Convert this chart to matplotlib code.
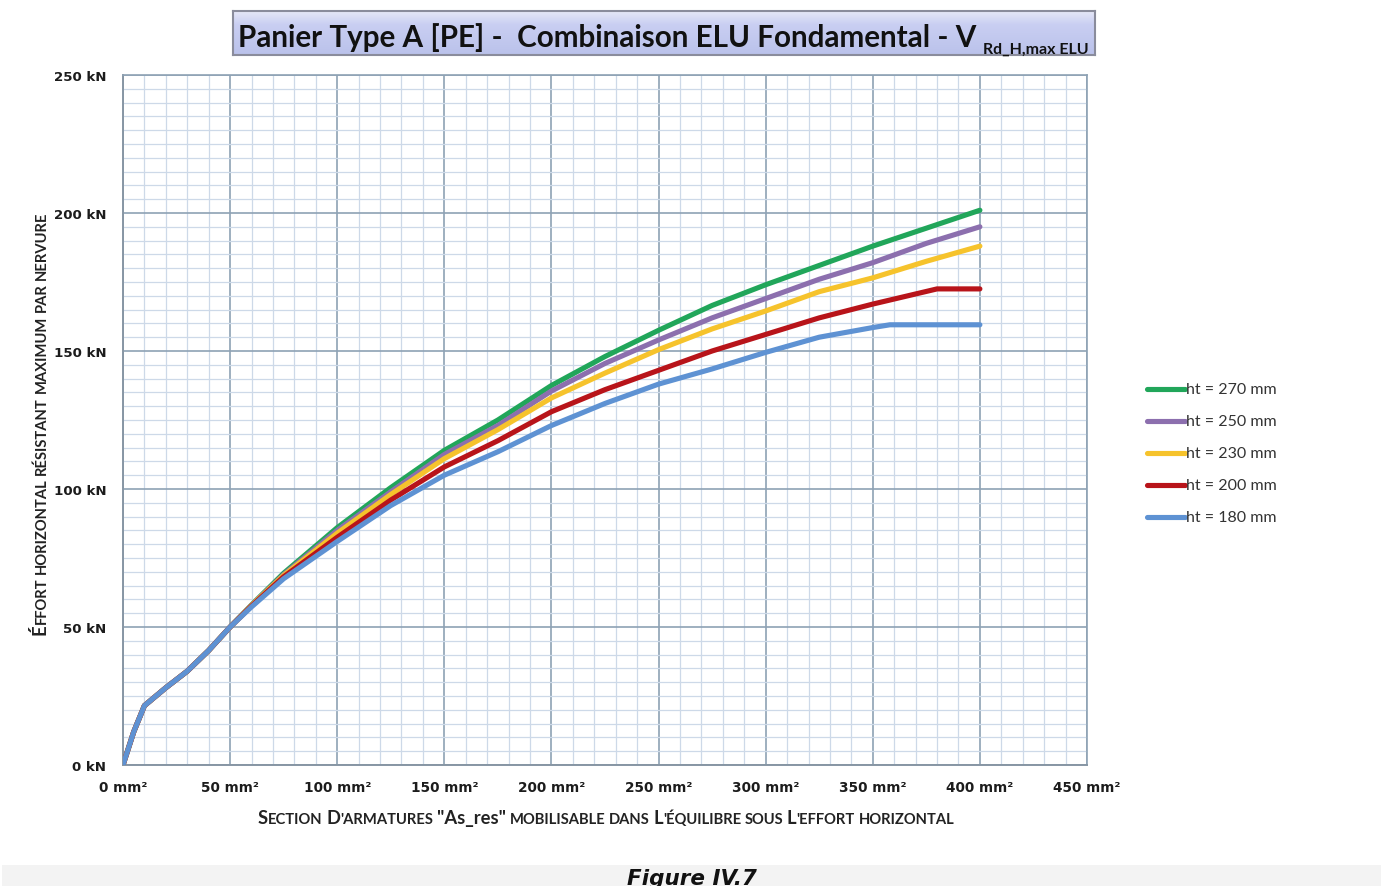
import matplotlib
matplotlib.use("Agg")
import matplotlib.pyplot as plt
import numpy as np
from matplotlib.lines import Line2D
from matplotlib.patches import Rectangle
from matplotlib.ticker import MultipleLocator, FuncFormatter

W, H = 1384, 887
DPI = 100

# ---- data: section As_res (mm²) vs. horizontal resistance (kN) ----
x_270 = [0, 5, 10, 20, 30, 40, 50, 60, 75, 100, 125, 150, 175, 200, 225, 250, 275, 300, 325, 350, 375, 400]
y_270 = [0, 12, 21.5, 28, 34, 41.5, 50, 58, 69.5, 86, 100.5, 114, 125, 137.5, 148, 157.5, 166.5, 174, 181, 188, 194.5, 201]

x_250 = [0, 5, 10, 20, 30, 40, 50, 60, 75, 100, 125, 150, 175, 200, 225, 250, 275, 300, 325, 350, 375, 400]
y_250 = [0, 12, 21.5, 28, 34, 41.5, 50, 57.9, 69, 85, 99, 112.5, 123, 135.5, 145.5, 154, 162, 169, 176, 182, 189, 195]

x_230 = [0, 5, 10, 20, 30, 40, 50, 60, 75, 100, 125, 150, 175, 200, 225, 250, 275, 300, 325, 350, 375, 400]
y_230 = [0, 12, 21.5, 28, 34, 41.5, 50, 57.8, 68.7, 84, 98, 111, 121.5, 133, 142, 150.5, 158, 164.5, 171.5, 176.5, 182.5, 188]

x_200 = [0, 5, 10, 20, 30, 40, 50, 60, 75, 100, 125, 150, 175, 200, 225, 250, 275, 300, 325, 350, 380, 400]
y_200 = [0, 12, 21.5, 28, 34, 41.5, 50, 57.6, 68.2, 82.5, 96, 108, 117.5, 128, 136, 143, 150, 156, 162, 167, 172.5, 172.5]

x_180 = [0, 5, 10, 20, 30, 40, 50, 60, 75, 100, 125, 150, 175, 200, 225, 250, 275, 300, 325, 350, 358, 400]
y_180 = [0, 12, 21.5, 28, 34, 41.5, 50, 57.3, 67.5, 81, 94, 105, 113.5, 123, 131, 138, 143.5, 149.5, 155, 158.5, 159.5, 159.5]

labels = ["ht = 270 mm", "ht = 250 mm", "ht = 230 mm", "ht = 200 mm", "ht = 180 mm"]
colors = ["#21a65a", "#8c6fae", "#f6c32c", "#b8141a", "#5e92d3"]

x_ticks_max = 450
y_ticks_max = 250

fig = plt.figure(figsize=(W / DPI, H / DPI), dpi=DPI)
fig.patch.set_facecolor("white")
renderer = fig.canvas.get_renderer()


def fx(px):
    return px / W


def fy(py):
    return 1 - py / H


# ---- plot area ----
ax = fig.add_axes([fx(123), fy(766), fx(1087) - fx(123), fy(76) - fy(766)])
series = [(x_270, y_270), (x_250, y_250), (x_230, y_230), (x_200, y_200), (x_180, y_180)]
for (xs, ys), c in zip(series, colors):
    ax.plot(xs, ys, color=c, lw=3.7, solid_capstyle="round", solid_joinstyle="round", zorder=3)

ax.set_xlim(0, x_ticks_max)
ax.set_ylim(0, y_ticks_max)
ax.xaxis.set_major_locator(MultipleLocator(50))
ax.xaxis.set_minor_locator(MultipleLocator(10))
ax.yaxis.set_major_locator(MultipleLocator(50))
ax.yaxis.set_minor_locator(MultipleLocator(5))
ax.xaxis.set_major_formatter(FuncFormatter(lambda v, p: f"{v:g} mm²"))
ax.yaxis.set_major_formatter(FuncFormatter(lambda v, p: f"{v:g} kN"))
ax.grid(which="major", color="#8ea2b4", lw=1.2, zorder=1)
ax.grid(which="minor", color="#cdd9e8", lw=0.9, zorder=0)
ax.set_axisbelow(True)
for s in ("top", "right"):
    ax.spines[s].set_color("#8ea2b4")
    ax.spines[s].set_linewidth(1.2)
for s in ("left", "bottom"):
    ax.spines[s].set_color("#8796a4")
    ax.spines[s].set_linewidth(1.4)
ax.tick_params(which="both", length=0)
ax.tick_params(axis="x", pad=11)
ax.tick_params(axis="y", pad=12)
for lab in ax.get_xticklabels():
    lab.set_fontweight("bold")
    lab.set_fontsize(9.8)
    lab.set_color("#1c1c1c")
    lab.set_family("DejaVu Sans")
for lab in ax.get_yticklabels():
    lab.set_fontweight("bold")
    lab.set_fontsize(9.6)
    lab.set_color("#1c1c1c")
    lab.set_family("DejaVu Sans")


# ---- helpers for text laid out in pixels ----
def text_width(s, size, family="Lato", weight="bold"):
    t = fig.text(0, 0, s, fontsize=size, family=family, fontweight=weight)
    w = t.get_window_extent(renderer).width
    t.remove()
    return w


def caps_line(x0, y0, words, big, small, target, rotation=0, family="Lato", color="#222222"):
    """Small-caps style label: each word is (large part, small part)."""
    def total(b, s):
        space = text_width("a a", s, family) - text_width("aa", s, family)
        n = 0
        for bp, sp in words:
            if bp:
                n += text_width(bp, b, family)
            if sp:
                n += text_width(sp, s, family)
        return n + space * (len(words) - 1)

    k = target / total(big, small)
    big, small = big * k, small * k
    space = text_width("a a", small, family) - text_width("aa", small, family)
    pos = 0.0
    for bp, sp in words:
        for part, size in ((bp, big), (sp, small)):
            if not part:
                continue
            w = text_width(part, size, family)
            if rotation == 0:
                x, y = x0 + pos, y0
            else:
                x, y = x0, y0 - pos
            fig.text(fx(x), fy(y), part, fontsize=size, family=family, fontweight="bold",
                     rotation=rotation, rotation_mode="anchor", ha="left", va="baseline",
                     color=color)
            pos += w
        pos += space


# ---- title box ----
tax = fig.add_axes([fx(233), fy(56), fx(1095) - fx(233), fy(12) - fy(56)])
grad = np.linspace(0, 1, 64).reshape(-1, 1)
top_c = np.array([0.90, 0.91, 0.97])
bot_c = np.array([0.73, 0.76, 0.92])
mid_c = np.array([0.79, 0.81, 0.95])
img = np.where(grad < 0.3, top_c + (mid_c - top_c) * (grad / 0.3),
               mid_c + (bot_c - mid_c) * ((grad - 0.3) / 0.7))
img = img.reshape(64, 1, 3)
tax.imshow(img, aspect="auto", extent=[0, 1, 0, 1], origin="upper")
tax.set_xticks([])
tax.set_yticks([])
for s in tax.spines.values():
    s.set_color("#8a8c9c")
    s.set_linewidth(1.5)

title_main = "Panier Type A [PE] -  Combinaison ELU Fondamental - V"
title_sub = "Rd_H,max ELU"
base = 20
main_w = 740
tw = text_width(title_main, base)
tsize = base * main_w / tw
fig.text(fx(238), fy(47), title_main, fontsize=tsize, family="Lato", fontweight="bold",
         ha="left", va="baseline", color="#111111")
sub_w = 1089 - (238 + main_w + 5)
sub_size = 12 * sub_w / text_width(title_sub, 12)
fig.text(fx(238 + main_w + 5), fy(54), title_sub, fontsize=sub_size, family="Lato",
         fontweight="bold", ha="left", va="baseline", color="#111111")

# ---- axis labels (small caps) ----
x_words = [("S", "ECTION"), ("D", "'ARMATURES"), ('"As_res"', ""), ("", "MOBILISABLE"),
           ("", "DANS"), ("L", "'ÉQUILIBRE"), ("", "SOUS"), ("L", "'EFFORT"), ("", "HORIZONTAL")]
caps_line(258, 824, x_words, big=12.5, small=10, target=696)

y_words = [("É", "FFORT"), ("", "HORIZONTAL"), ("", "RÉSISTANT"), ("", "MAXIMUM"),
           ("", "PAR"), ("", "NERVURE")]
caps_line(46, 635, y_words, big=12.5, small=10, target=425, rotation=90)

# ---- legend ----
rows = [390, 422, 454, 486, 518]
for py, c, lab in zip(rows, colors, labels):
    fig.add_artist(Line2D([fx(1147), fx(1185)], [fy(py), fy(py)], color=c, lw=3.7,
                          solid_capstyle="round", transform=fig.transFigure))
    fig.text(fx(1186), fy(py), lab, fontsize=11.5, family="Lato", ha="left", va="center",
             color="#333333")

# ---- caption band ----
fig.add_artist(Rectangle((fx(2), 0), fx(1381) - fx(2), fy(866), transform=fig.transFigure,
                         facecolor="#f3f3f3", edgecolor="none", zorder=0))
fig.text(0.5, fy(869), "Figure IV.7", fontsize=15.5, family="DejaVu Sans", fontweight="bold",
         style="italic", ha="center", va="top", color="#111111")

fig.savefig("out.png", dpi=DPI)
